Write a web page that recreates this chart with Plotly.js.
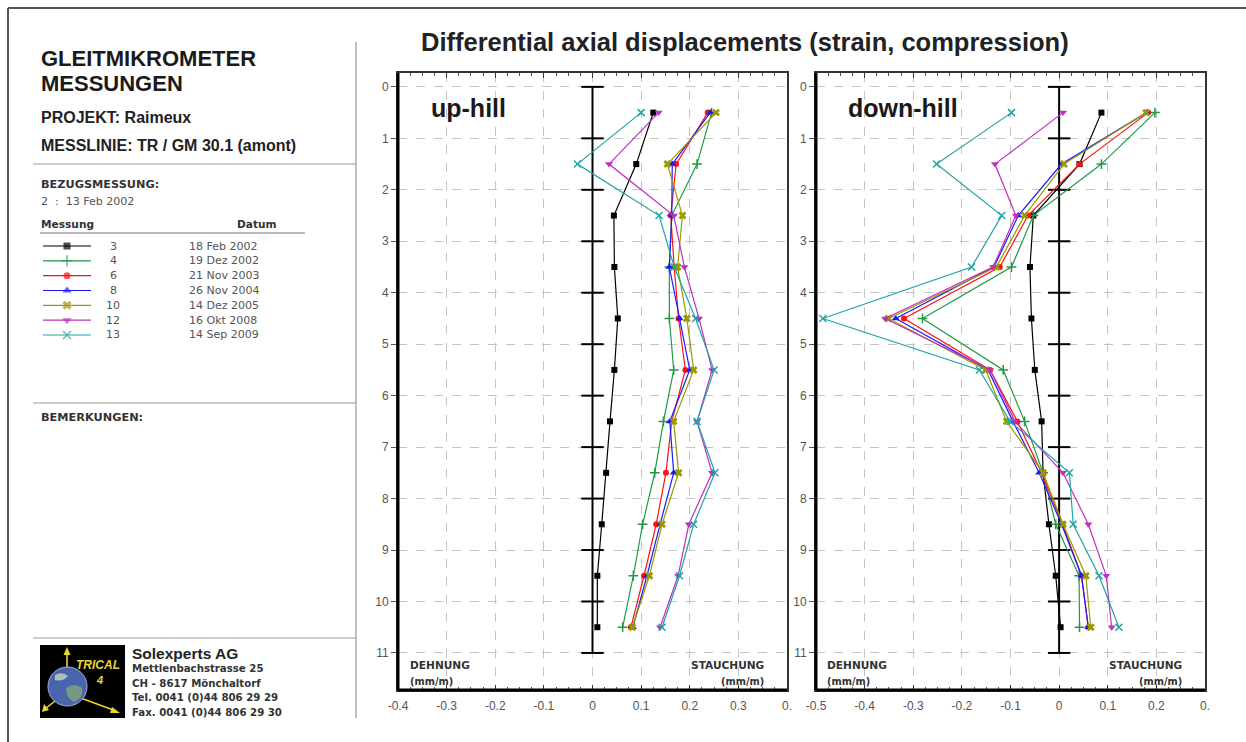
<!DOCTYPE html>
<html>
<head>
<meta charset="utf-8">
<script src="https://cdn.plot.ly/plotly-3.0.1.min.js"></script>
<style>html,body{margin:0;padding:0;background:#fff;}#chart{width:1246px;height:742px;}</style>
</head>
<body>
<div id="chart"></div>
<script>
// ---------- data ----------
const depths = [0.5, 1.5, 2.5, 3.5, 4.5, 5.5, 6.5, 7.5, 8.5, 9.5, 10.5];
const refDepths = [0, 1, 2, 3, 4, 5, 6, 7, 8, 9, 10, 11];

const seriesIds = ['3', '4', '6', '8', '10', '12', '13'];
const seriesDates = ['18 Feb 2002', '19 Dez 2002', '21 Nov 2003', '26 Nov 2004', '14 Dez 2005', '16 Okt 2008', '14 Sep 2009'];

const up3  = [0.125, 0.090, 0.044, 0.045, 0.052, 0.045, 0.036, 0.028, 0.019, 0.010, 0.010];
const up4  = [0.245, 0.215, 0.163, 0.158, 0.158, 0.167, 0.146, 0.128, 0.103, 0.084, 0.062];
const up6  = [0.237, 0.172, 0.161, 0.168, 0.177, 0.191, 0.163, 0.151, 0.131, 0.106, 0.079];
const up8  = [0.242, 0.164, 0.163, 0.158, 0.179, 0.200, 0.159, 0.167, 0.139, 0.112, 0.083];
const up10 = [0.254, 0.154, 0.185, 0.175, 0.194, 0.208, 0.167, 0.177, 0.143, 0.117, 0.082];
const up12 = [0.136, 0.034, 0.167, 0.189, 0.219, 0.246, 0.215, 0.246, 0.198, 0.176, 0.139];
const up13 = [0.100, -0.031, 0.137, 0.168, 0.212, 0.250, 0.215, 0.252, 0.208, 0.179, 0.143];

const dn3  = [0.087, 0.042, -0.053, -0.060, -0.057, -0.050, -0.036, -0.033, -0.021, -0.007, 0.003];
const dn4  = [0.197, 0.087, -0.053, -0.098, -0.281, -0.115, -0.071, -0.033, -0.007, 0.041, 0.042];
const dn6  = [0.183, 0.042, -0.064, -0.122, -0.319, -0.142, -0.086, -0.036, 0.007, 0.046, 0.060];
const dn8  = [0.180, 0.005, -0.084, -0.134, -0.336, -0.146, -0.095, -0.041, 0.005, 0.046, 0.060];
const dn10 = [0.179, 0.010, -0.071, -0.129, -0.351, -0.151, -0.108, -0.033, 0.008, 0.055, 0.065];
const dn12 = [0.008, -0.132, -0.089, -0.136, -0.358, -0.142, -0.091, 0.008, 0.060, 0.097, 0.108];
const dn13 = [-0.098, -0.252, -0.118, -0.180, -0.486, -0.164, -0.101, 0.021, 0.029, 0.082, 0.123];

const upTickVals = [-0.4, -0.3, -0.2, -0.1, 0, 0.1, 0.2, 0.3, 0.4];
const upTickText = ['-0.4', '-0.3', '-0.2', '-0.1', '0', '0.1', '0.2', '0.3', '0.'];
const dnTickVals = [-0.5, -0.4, -0.3, -0.2, -0.1, 0, 0.1, 0.2, 0.3];
const dnTickText = ['-0.5', '-0.4', '-0.3', '-0.2', '-0.1', '0', '0.1', '0.2', '0.'];
const depthTicks = [0, 1, 2, 3, 4, 5, 6, 7, 8, 9, 10, 11];

// ---------- styles ----------
const W = 1246, H = 742;
const px = x => x / W;
const py = y => 1 - y / H;
const FONT = 'Liberation Sans, Arial, sans-serif';
const SMALL = 'DejaVu Sans, Liberation Sans, sans-serif';

const styles = [
  {color: '#000000', symbol: 'square', size: 6, lw: 0},
  {color: '#229944', symbol: 'cross-thin-open', size: 7, lw: 1.5},
  {color: '#ff1010', symbol: 'circle', size: 6, lw: 0},
  {color: '#1a1aff', symbol: 'triangle-up', size: 7, lw: 0},
  {color: '#9a9a00', symbol: 'x', size: 7, lw: 0},
  {color: '#c030c0', symbol: 'triangle-down', size: 7, lw: 0},
  {color: '#22a4a4', symbol: 'x-thin-open', size: 7, lw: 1.5}
];
const upSeries = [up3, up4, up6, up8, up10, up12, up13];
const dnSeries = [dn3, dn4, dn6, dn8, dn10, dn12, dn13];

const traces = [];
function refTrace(xa, ya) {
  return {
    x: refDepths.map(() => 0), y: refDepths, xaxis: xa, yaxis: ya,
    mode: 'lines+markers', showlegend: false, hoverinfo: 'skip',
    line: {color: '#000', width: 2},
    marker: {symbol: 'line-ew', size: 16, line: {color: '#000', width: 2}}
  };
}
traces.push(refTrace('x', 'y'));
traces.push(refTrace('x2', 'y2'));

function seriesTrace(vals, i, xa, ya) {
  const s = styles[i];
  return {
    x: vals, y: depths, xaxis: xa, yaxis: ya, mode: 'lines+markers',
    name: seriesIds[i], showlegend: false,
    line: {color: s.color, width: 1.2},
    marker: {symbol: s.symbol, size: s.size, color: s.color, line: {color: s.color, width: s.lw}}
  };
}
upSeries.forEach((v, i) => traces.push(seriesTrace(v, i, 'x', 'y')));
dnSeries.forEach((v, i) => traces.push(seriesTrace(v, i, 'x2', 'y2')));

// legend samples in the left panel
seriesIds.forEach((id, i) => {
  const s = styles[i];
  traces.push({
    x: [0, 0.5, 1], y: [i, i, i], xaxis: 'x3', yaxis: 'y3', mode: 'lines+markers',
    showlegend: false, hoverinfo: 'skip',
    line: {color: s.color, width: 1.2},
    marker: {symbol: s.symbol, size: [0, s.size + 1, 0], color: s.color, line: {color: s.color, width: s.lw}}
  });
});

// ---------- axes ----------
function xAxis(domain, range, tv, tt, anchor) {
  return {
    domain: domain, range: range, anchor: anchor,
    tickmode: 'array', tickvals: tv, ticktext: tt,
    ticks: 'inside', ticklen: 5, tickcolor: '#333', tickwidth: 1,
    minor: {dtick: 0.025, ticks: 'inside', ticklen: 3, tickcolor: '#555', showgrid: false},
    showline: true, linecolor: '#333', linewidth: 2, mirror: 'allticks',
    showgrid: true, gridcolor: '#c4c4c4', griddash: 'dash', gridwidth: 1,
    ticklabelstandoff: 4,
    zeroline: false, tickfont: {family: FONT, size: 12, color: '#555'}, fixedrange: true
  };
}
function yAxis(anchor) {
  return {
    domain: [py(690), py(73)], range: [11.72, -0.27], anchor: anchor,
    tickmode: 'array', tickvals: depthTicks,
    ticks: 'outside', ticklen: 5, tickcolor: '#555',
    showline: true, linecolor: '#333', linewidth: 2, mirror: true,
    showgrid: true, gridcolor: '#c4c4c4', griddash: 'dash', gridwidth: 1,
    zeroline: false, tickfont: {family: FONT, size: 12, color: '#555'}, fixedrange: true
  };
}

// ---------- annotations ----------
const ann = [];
function txt(x, y, text, size, opts) {
  opts = opts || {};
  ann.push({
    xref: 'paper', yref: 'paper', x: px(x), y: py(y), text: text, showarrow: false,
    xanchor: opts.anchor || 'left', yanchor: 'middle',
    font: {family: opts.family || FONT, size: size, color: opts.color || '#222'}
  });
}
txt(745, 42, '<b>Differential axial displacements (strain, compression)</b>', 25.5, {anchor: 'center', color: '#222'});
txt(429, 108, '<b>up-hill</b>', 25, {color: '#1a1a1a'});
txt(846, 108, '<b>down-hill</b>', 25, {color: '#1a1a1a'});
[[408, 766], [825, 1184]].forEach(p => {
  txt(p[0], 665, '<b>DEHNUNG</b>', 10.6, {color: '#333', family: SMALL});
  txt(p[0], 681, '<b>(mm/m)</b>', 9.8, {color: '#333', family: SMALL});
  txt(p[1], 665, '<b>STAUCHUNG</b>', 10.6, {color: '#333', anchor: 'right', family: SMALL});
  txt(p[1], 681, '<b>(mm/m)</b>', 9.8, {color: '#333', anchor: 'right', family: SMALL});
});

txt(39, 58, '<b>GLEITMIKROMETER</b>', 22, {color: '#1a1a1a'});
txt(39, 84, '<b>MESSUNGEN</b>', 22, {color: '#1a1a1a'});
txt(39, 117, '<b>PROJEKT: Raimeux</b>', 16, {color: '#222'});
txt(39, 145, '<b>MESSLINIE: TR / GM 30.1 (amont)</b>', 16, {color: '#222'});
txt(39, 185, '<b>BEZUGSMESSUNG:</b>', 11.3, {color: '#333', family: SMALL});
txt(39, 201, '2  :  13 Feb 2002', 11, {color: '#555', family: SMALL});
txt(39, 224, '<b>Messung</b>', 10.6, {color: '#333', family: SMALL});
txt(235, 224, '<b>Datum</b>', 10.6, {color: '#333', family: SMALL});
seriesIds.forEach((id, i) => {
  const y = 246 + i * 14.8;
  txt(113, y, id, 11, {color: '#555', anchor: 'center', family: SMALL});
  txt(187, y, seriesDates[i], 11, {color: '#555', family: SMALL});
});
txt(39, 417, '<b>BEMERKUNGEN:</b>', 11.3, {color: '#333', family: SMALL});
txt(130, 653, '<b>Solexperts AG</b>', 15.5, {color: '#222'});
txt(130, 668, '<b>Mettlenbachstrasse 25</b>', 10.2, {color: '#333', family: SMALL});
txt(130, 683, '<b>CH - 8617 Mönchaltorf</b>', 10.2, {color: '#333', family: SMALL});
txt(130, 697, '<b>Tel. 0041 (0)44 806 29 29</b>', 10.2, {color: '#333', family: SMALL});
txt(130, 712, '<b>Fax. 0041 (0)44 806 29 30</b>', 10.2, {color: '#333', family: SMALL});

// ---------- shapes ----------
const shapes = [];
function line(x0, y0, x1, y1, color, width) {
  shapes.push({type: 'line', xref: 'paper', yref: 'paper', x0: px(x0), y0: py(y0), x1: px(x1), y1: py(y1),
    line: {color: color, width: width}});
}
function tri(xa, ya, xb, yb, xc, yc, color) {
  shapes.push({type: 'path', xref: 'paper', yref: 'paper',
    path: `M ${px(xa)} ${py(ya)} L ${px(xb)} ${py(yb)} L ${px(xc)} ${py(yc)} Z`, fillcolor: color, line: {width: 0}});
}
// outer frame
line(8, 8, 1246, 8, '#555', 2);
line(8, 8, 8, 742, '#555', 2);
// left panel separators
line(356, 42, 356, 718, '#aaa', 1.5);
line(33, 164, 356, 164, '#999', 1.2);
line(40, 233, 305, 233, '#777', 1);
line(33, 403, 356, 403, '#999', 1.2);
line(33, 638, 356, 638, '#999', 1.2);
// thick left/bottom plot borders
[['x', 'y'], ['x2', 'y2']].forEach(a => {
  shapes.push({type: 'line', xref: a[0] + ' domain', yref: a[1] + ' domain', x0: 0, x1: 1, y0: 0, y1: 0, line: {color: '#000', width: 3}});
  shapes.push({type: 'line', xref: a[0] + ' domain', yref: a[1] + ' domain', x0: 0, x1: 0, y0: 0, y1: 1, line: {color: '#000', width: 3}});
});
// logo
shapes.push({type: 'rect', xref: 'paper', yref: 'paper', x0: px(40), y0: py(718), x1: px(125), y1: py(645),
  fillcolor: '#000', line: {width: 0}});
const Y = '#e8d830';
line(67, 670, 67, 652, Y, 1.6);
tri(67, 647, 63.5, 655, 70.5, 655, Y);
line(60, 697, 45, 709, Y, 1.6);
tri(42, 712, 44, 704, 49, 710, Y);
line(78, 697, 116, 711, Y, 1.6);
tri(120, 713, 112, 707, 110, 713, Y);
shapes.push({type: 'circle', xref: 'paper', yref: 'paper', x0: px(48), y0: py(706), x1: px(87), y1: py(667),
  fillcolor: '#4a64ad', line: {color: '#9fb2de', width: 1}});
shapes.push({type: 'path', xref: 'paper', yref: 'paper',
  path: `M ${px(66)} ${py(688)} Q ${px(74)} ${py(682)} ${px(82)} ${py(688)} Q ${px(84)} ${py(698)} ${px(74)} ${py(702)} Q ${px(66)} ${py(698)} ${px(66)} ${py(688)} Z`,
  fillcolor: '#7d9c80', line: {width: 0}, opacity: 0.9});
shapes.push({type: 'path', xref: 'paper', yref: 'paper',
  path: `M ${px(55)} ${py(675)} Q ${px(62)} ${py(671)} ${px(68)} ${py(676)} Q ${px(63)} ${py(682)} ${px(55)} ${py(680)} Z`,
  fillcolor: '#c9d6c2', line: {width: 0}, opacity: 0.8});
ann.push({xref: 'paper', yref: 'paper', x: px(98), y: py(665), text: '<b><i>TRICAL</i></b>', showarrow: false,
  xanchor: 'center', yanchor: 'middle', font: {family: FONT, size: 12, color: Y}});
ann.push({xref: 'paper', yref: 'paper', x: px(99), y: py(680), text: '<b><i>4</i></b>', showarrow: false,
  xanchor: 'center', yanchor: 'middle', font: {family: FONT, size: 11, color: Y}});

const layout = {
  width: W, height: H, autosize: false,
  margin: {l: 0, r: 0, t: 0, b: 0},
  paper_bgcolor: '#fff', plot_bgcolor: '#fff',
  showlegend: false,
  xaxis: xAxis([px(398), px(787)], [-0.4, 0.4], upTickVals, upTickText, 'y'),
  yaxis: yAxis('x'),
  xaxis2: xAxis([px(816), px(1205)], [-0.5, 0.3], dnTickVals, dnTickText, 'y2'),
  yaxis2: yAxis('x2'),
  xaxis3: {domain: [px(43), px(91)], range: [0, 1], anchor: 'y3', visible: false, fixedrange: true},
  yaxis3: {domain: [py(342.4), py(238.6)], range: [6.5, -0.5], anchor: 'x3', visible: false, fixedrange: true},
  annotations: ann,
  shapes: shapes,
  font: {family: FONT}
};

Plotly.newPlot('chart', traces, layout, {displayModeBar: false, staticPlot: true});
</script>
</body>
</html>
